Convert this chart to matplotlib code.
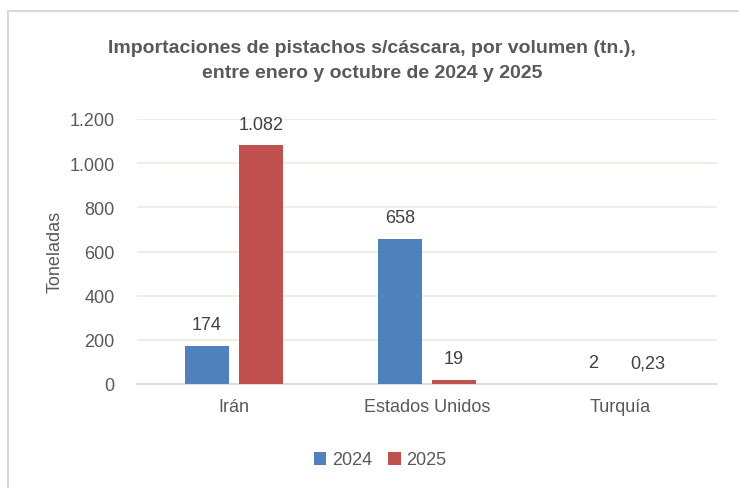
import matplotlib.pyplot as plt
import matplotlib.patches as patches
import numpy as np

plt.rcParams['font.family'] = ['Liberation Sans Narrow', 'Liberation Sans', 'DejaVu Sans']

paises = ['Irán', 'Estados Unidos', 'Turquía']
v2024 = [174, 658, 2]
v2025 = [1082, 19, 0.23]
etiq2024 = ['174', '658', '2']
etiq2025 = ['1.082', '19', '0,23']
yticks = [0, 200, 400, 600, 800, 1000, 1200]
yticklabels = ['0', '200', '400', '600', '800', '1.000', '1.200']

azul = '#4F81BD'
rojo = '#C0504D'
gris = '#595959'

fig = plt.figure(figsize=(7.39, 4.89), dpi=100)
ax = fig.add_axes([137/739, 1 - 385/489, 580/739, 265/489])

# marco del grafico
fig.patches.append(patches.Rectangle((8/739, -0.1), 1.2, 1 - 12/489 + 0.1, transform=fig.transFigure,
                                     fill=False, edgecolor='#D9D9D9', linewidth=1.5))

x = np.arange(len(paises))
w = 0.228
d = 0.14
b1 = ax.bar(x - d, v2024, w, color=azul, label='2024', zorder=3)
b2 = ax.bar(x + d, v2025, w, color=rojo, label='2025', zorder=3)

for rects, labs in [(b1, etiq2024), (b2, etiq2025)]:
    for r, t in zip(rects, labs):
        ax.annotate(t, (r.get_x() + r.get_width() / 2, r.get_height()), xytext=(0, 15),
                    textcoords='offset points', ha='center', va='center', fontsize=13, color='#404040')

ax.set_xlim(-0.5, 2.5)
ax.set_ylim(0, 1200)
ax.set_yticks(yticks)
ax.set_yticklabels(yticklabels)
ax.set_xticks(x)
ax.set_xticklabels(paises)
ax.tick_params(axis='both', length=0, labelsize=13, labelcolor=gris)
ax.tick_params(axis='y', pad=16)
ax.tick_params(axis='x', pad=10)
ax.grid(axis='y', color='#EEEBDF', linewidth=1.2, zorder=0)
for s in ['top', 'right', 'left']:
    ax.spines[s].set_visible(False)
ax.spines['bottom'].set_color('#D9D9D9')
ax.spines['bottom'].set_linewidth(1.2)

fig.text(55/739, 1 - 252/489, 'Toneladas', rotation=90, ha='center', va='center', fontsize=13, color=gris)
fig.text(372/739, 1 - 61/489, 'Importaciones de pistachos s/cáscara, por volumen (tn.),\nentre enero y octubre de 2024 y 2025',
         ha='center', va='center', fontsize=14, fontweight='bold', color=gris, linespacing=1.6)

fig.legend(handles=[b1, b2], loc='center', bbox_to_anchor=(380/739, 1 - 461/489), ncol=2, frameon=False,
           fontsize=13, labelcolor=gris, handlelength=0.7, handleheight=0.7, handletextpad=0.3, columnspacing=0.9)

fig.savefig('out.png', dpi=100)
